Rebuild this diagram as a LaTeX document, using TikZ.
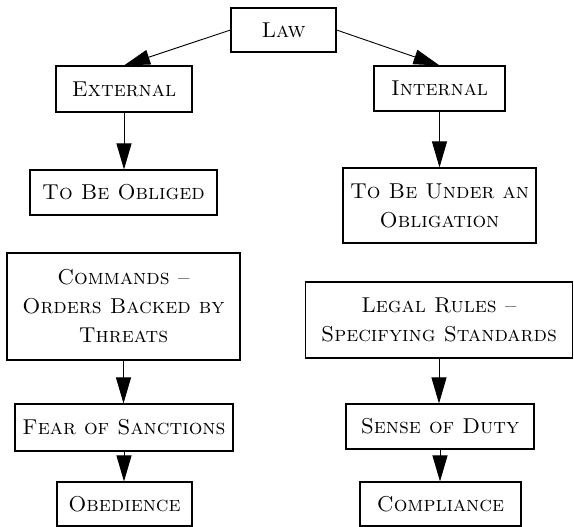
\documentclass[tikz,border=0pt]{standalone}
\usetikzlibrary{arrows.meta}
\begin{document}
\begin{tikzpicture}[x=1pt,y=-1pt,
  box/.style={draw, line width=1.1pt, inner sep=0pt, align=center,
    font=\fontsize{21.5}{29}\selectfont\scshape},
  link/.style={line width=0.9pt, -{Triangle[length=26pt,width=15pt]}}]
\useasboundingbox (0,0) rectangle (574,527);
% top level
\node[box, minimum width=105pt, minimum height=44pt] (law) at (283.5,30) {Law};
\node[box, minimum width=136pt, minimum height=46pt] (ext) at (124,89) {External};
\node[box, minimum width=131pt, minimum height=45pt] (int) at (439.5,88.5) {Internal};
% second level
\node[box, minimum width=187pt, minimum height=45pt] (obl) at (123.5,192.5) {To Be Obliged};
\node[box, minimum width=193pt, minimum height=75pt] (uobl) at (439.5,205.5) {To Be Under an\\Obligation};
% left column
\node[box, minimum width=233pt, minimum height=107pt] (cmd) at (123.5,306.5) {Commands --\\Orders Backed by\\Threats};
\node[box, minimum width=218pt, minimum height=47pt] (fear) at (124,427.5) {Fear of Sanctions};
\node[box, minimum width=135pt, minimum height=44pt] (obed) at (124.5,504) {Obedience};
% right column
\node[box, minimum width=267pt, minimum height=76pt] (legal) at (439,320) {Legal Rules --\\Specifying Standards};
\node[box, minimum width=188pt, minimum height=45pt] (duty) at (440,426.5) {Sense of Duty};
\node[box, minimum width=161pt, minimum height=44pt] (comp) at (440.5,504) {Compliance};
% connectors
\draw[link] (law.west) -- (ext.north);
\draw[link] (law.east) -- (int.north);
\draw[link] (ext.south) -- (obl.north -| ext.south);
\draw[link] (int.south) -- (uobl.north -| int.south);
\draw[link] (cmd.south) -- (fear.north -| cmd.south);
\draw[link] (legal.south) -- (duty.north -| legal.south);
\draw[link] (fear.south) -- (obed.north -| fear.south);
\draw[link] (duty.south) -- (comp.north -| duty.south);
\end{tikzpicture}
\end{document}
